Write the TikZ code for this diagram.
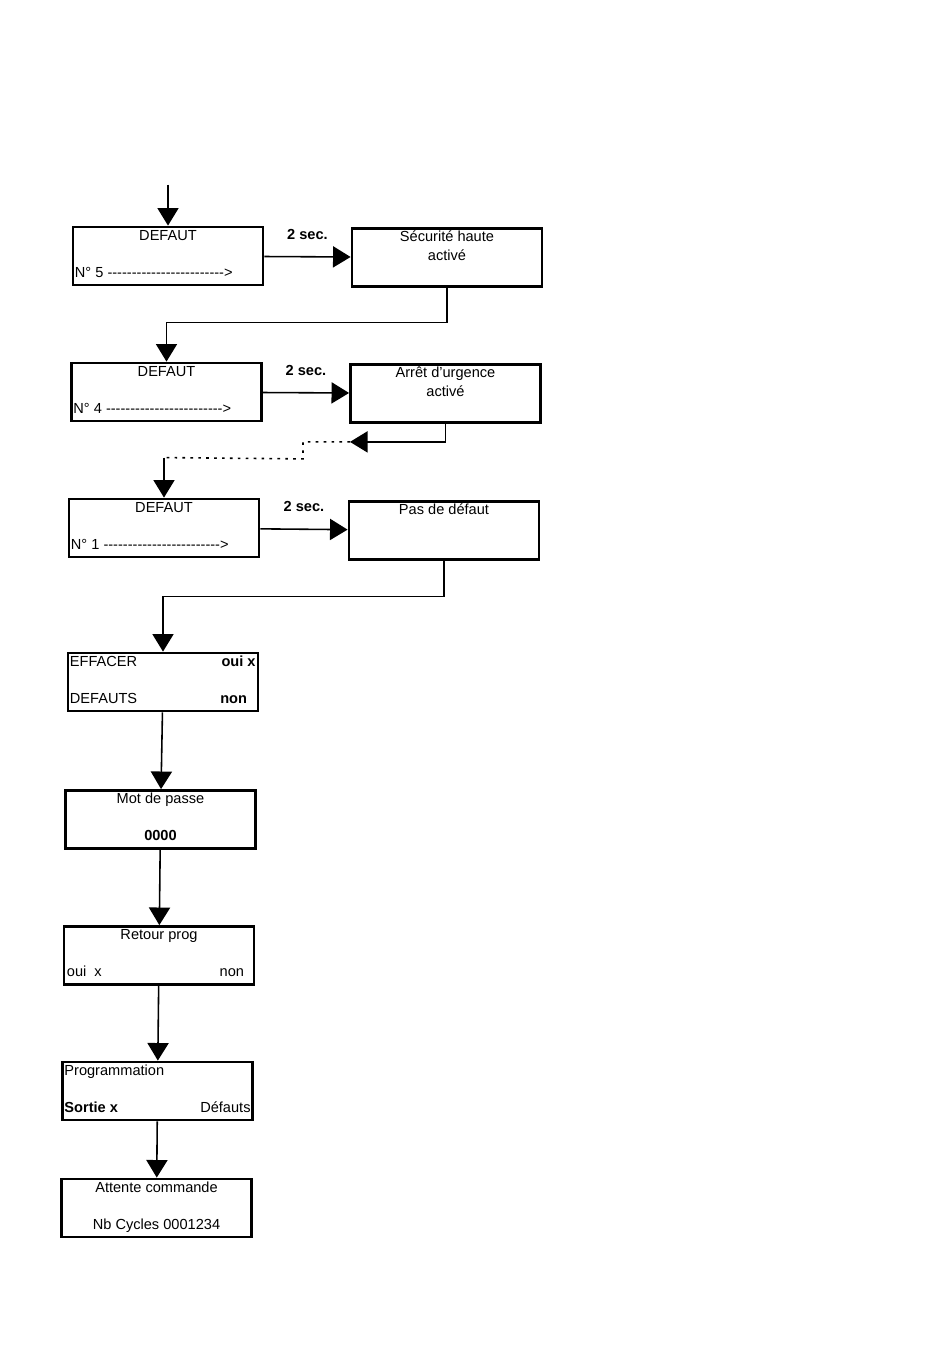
\documentclass[tikz,border=0pt]{standalone}
\usepackage{fontspec}
\setmainfont{Liberation Sans}
\usetikzlibrary{positioning,arrows.meta}

\newcommand{\fleche}{\foreach \n in {1,...,24}{-\kern0pt}>}

\begin{document}
\begin{tikzpicture}[node distance=1.5cm,
  every node/.style={font=\fontsize{8.3}{10}\selectfont},
  block/.style={draw, rectangle, line width=1.6pt, minimum width=3.8cm, minimum height=1.16cm},
  txt/.style={inner sep=0pt, text height=6pt, text depth=2pt},
  arr/.style={line width=0.9pt, -{Triangle[length=10pt,width=12pt]}},
  link/.style={line width=0.9pt}]

\useasboundingbox (-3.36,5.12) rectangle (15.64,-22.08);

% Boxes
\node (defaut5) [block] {};
\node (securite) [block, right of=defaut5, xshift=4.08cm, yshift=-0.03cm] {};
\node (defaut4) [block, below of=defaut5, yshift=-1.22cm, xshift=-0.03cm] {};
\node (urgence) [block, right of=defaut4, xshift=4.08cm, yshift=-0.03cm] {};
\node (defaut1) [block, below of=defaut4, yshift=-1.22cm, xshift=-0.05cm] {};
\node (pasdefaut) [block, right of=defaut1, xshift=4.1cm, yshift=-0.05cm] {};
\node (effacer) [block, below of=defaut1, yshift=-1.58cm, xshift=-0.02cm] {};
\node (motpasse) [block, below of=effacer, yshift=-1.25cm, xshift=-0.05cm] {};
\node (retour) [block, below of=motpasse, yshift=-1.22cm, xshift=-0.03cm] {};
\node (program) [block, below of=retour, yshift=-1.21cm, xshift=-0.03cm] {};
\node (attente) [block, below of=program, yshift=-0.84cm, xshift=-0.02cm] {};

% Texts
\node (defaut5a) [txt, below=0.08cm of defaut5.north] {DEFAUT};
\node (defaut5b) [txt, above right=0.11cm and 0.06cm of defaut5.south west] {N° 5 \fleche};
\node (securitea) [txt, below=0.08cm of securite.north] {Sécurité haute};
\node (securiteb) [txt, below=0.08cm of securitea] {activé};
\node (defaut4a) [txt, below=0.08cm of defaut4.north] {DEFAUT};
\node (defaut4b) [txt, above right=0.11cm and 0.06cm of defaut4.south west] {N° 4 \fleche};
\node (urgencea) [txt, below=0.08cm of urgence.north] {Arrêt d'urgence};
\node (urgenceb) [txt, below=0.08cm of urgencea] {activé};
\node (defaut1a) [txt, below=0.08cm of defaut1.north] {DEFAUT};
\node (defaut1b) [txt, above right=0.11cm and 0.06cm of defaut1.south west] {N° 1 \fleche};
\node (pasdefauta) [txt, below=0.08cm of pasdefaut.north] {Pas de défaut};
\node (effacera) [txt, below right=0.08cm and 0.06cm of effacer.north west] {EFFACER};
\node (effacerb) [txt, above right=0.11cm and 0.06cm of effacer.south west] {DEFAUTS};
\node (effacerc) [txt, below left=0.08cm and 0.07cm of effacer.north east] {\textbf{oui x}};
\node (effacerd) [txt, above left=0.11cm and 0.24cm of effacer.south east] {\textbf{non}};
\node (motpassea) [txt, below=0.08cm of motpasse.north] {Mot de passe};
\node (motpasseb) [txt, above=0.11cm of motpasse.south] {\textbf{0000}};
\node (retoura) [txt, below=0.08cm of retour.north] {Retour prog};
\node (retourb) [txt, above right=0.11cm and 0.08cm of retour.south west] {oui~~x};
\node (retourc) [txt, above left=0.11cm and 0.22cm of retour.south east] {non};
\node (programa) [txt, below right=0.08cm and 0.06cm of program.north west] {Programmation};
\node (programb) [txt, above right=0.11cm and 0.06cm of program.south west] {\textbf{Sortie x}};
\node (programc) [txt, above left=0.11cm and 0.06cm of program.south east] {Défauts};
\node (attentea) [txt, below=0.08cm of attente.north] {Attente commande};
\node (attenteb) [txt, above=0.11cm of attente.south] {Nb Cycles 0001234};

% Bends
\node (entree) [coordinate, above=0.82cm of defaut5.north] {};
\node (coude1) [coordinate, above=0.78cm of defaut4.north] {};
\node (coude2) [coordinate, below left=0.36cm and 1.91cm of urgence.south] {};
\node (coude3) [coordinate, below left=0.34cm and 0.94cm of coude2] {};
\node (coude4) [coordinate, above=0.8cm of defaut1.north] {};
\node (coude5) [coordinate, above=1.1cm of effacer.north] {};

% Arrows
\draw [arr] (entree) -- (defaut5.north);
\draw [arr] (defaut5) -- node (sec5) [txt, above=0.26cm] {\textbf{2 sec.}} (securite);
\draw [arr] (securite.south) |- (coude1) -- (defaut4.north);
\draw [arr] (defaut4) -- node (sec4) [txt, above=0.26cm] {\textbf{2 sec.}} (urgence);
\draw [arr] (urgence.south) |- (coude2);
\draw [link, dash pattern=on 1.5pt off 3pt] (coude2) -| (coude3) -- (coude4);
\draw [arr] (coude4) -- (defaut1.north);
\draw [arr] (defaut1) -- node (sec1) [txt, above=0.26cm] {\textbf{2 sec.}} (pasdefaut);
\draw [arr] (pasdefaut.south) |- (coude5) -- (effacer.north);
\draw [arr] (effacer) -- (motpasse);
\draw [arr] (motpasse) -- (retour);
\draw [arr] (retour) -- (program);
\draw [arr] (program) -- (attente);
\end{tikzpicture}
\end{document}
